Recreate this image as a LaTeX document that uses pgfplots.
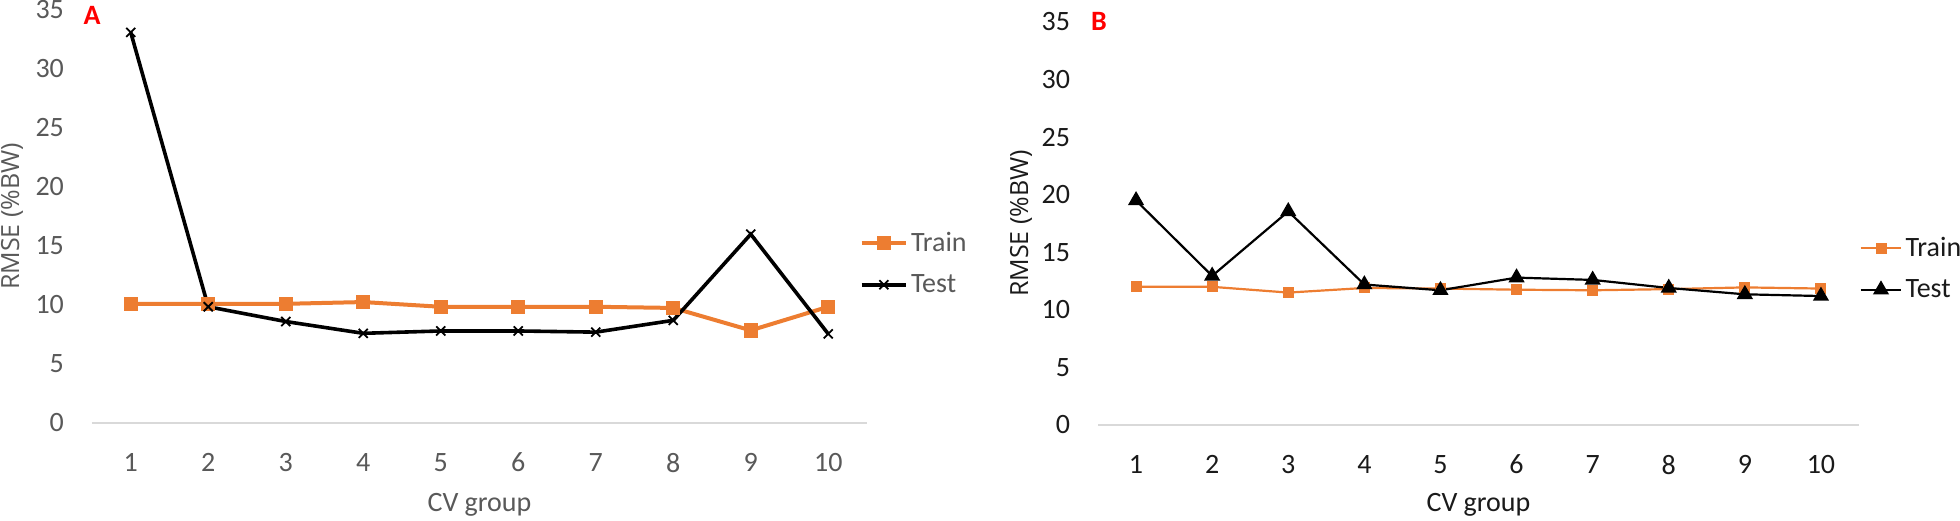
\documentclass[border=0pt]{standalone}
\usepackage{pgfplots}
\pgfplotsset{compat=1.18}
\usepackage{fontspec}
\setmainfont{Carlito}
\newfontfamily\osans{Open Sans}
\definecolor{txtgray}{HTML}{595959}
\definecolor{txtdark}{HTML}{1A1A1A}
\definecolor{axgray}{HTML}{D9D9D9}
\definecolor{xlorange}{HTML}{ED7D31}
\pgfplotsset{
  rmsestyle/.style={
    scale only axis,
    anchor=south west,
    xmin=0.5, xmax=10.5, ymin=0, ymax=35,
    xtick={1,2,3,4,5,6,7,8,9,10},
    ytick={0,5,10,15,20,25,30,35},
    axis x line*=bottom, axis y line*=left,
    x axis line style={draw=axgray, line width=1pt, -},
    y axis line style={draw=none},
    major tick length=0pt,
    tick label style={font=\fontsize{14}{16}\selectfont, text=#1},
    /pgf/number format/assume math mode=true,
    xticklabel style={yshift=-11.5pt},
    yticklabel style={xshift=-10.5pt},
    xlabel={CV group},
    xlabel style={font=\fontsize{14}{16}\selectfont, text=#1, anchor=center},
    ylabel={RMSE (\%BW)},
    ylabel style={font=\osans\fontsize{12.5}{15}\selectfont, text=#1, anchor=center},
    clip=false,
    legend cell align=left,
    legend style={draw=none, fill=none, font=\fontsize{14}{16}\selectfont, text=#1,
      anchor=west, inner sep=0pt, row sep=6pt, nodes={inner xsep=1.5pt}},
  }
}
\begin{document}
\begin{tikzpicture}
\useasboundingbox (0,0) rectangle (980pt,260pt);
% Panel A
\begin{axis}[rmsestyle=txtgray, at={(46pt,48.5pt)}, width=387.5pt, height=206.5pt,
  xlabel style={at={(axis description cs:0.5,-0.1985)}},
  ylabel style={at={(axis description cs:-0.1032,0.5)}},
  legend style={at={(axis description cs:0.99,0.386)}},
  legend image code/.code={\draw[mark repeat=2,mark phase=2] plot coordinates {(0cm,0cm) (0.39cm,0cm) (0.78cm,0cm)};}]
\addplot[color=xlorange, line width=2pt, mark=square*, mark size=2.6pt, mark options={solid}]
  coordinates {(1,10.1)(2,10.1)(3,10.1)(4,10.25)(5,9.85)(6,9.85)(7,9.85)(8,9.75)(9,7.85)(10,9.85)};
\addlegendentry{Train}
\addplot[color=black, line width=1.8pt, mark=x, mark size=3.2pt, mark options={solid, line width=0.9pt}]
  coordinates {(1,33.1)(2,9.85)(3,8.6)(4,7.6)(5,7.8)(6,7.8)(7,7.7)(8,8.7)(9,16.0)(10,7.55)};
\addlegendentry{Test}
\end{axis}
% Panel B
\begin{axis}[rmsestyle=txtdark, at={(549pt,47.5pt)}, width=380.5pt, height=201.5pt,
  xlabel style={at={(axis description cs:0.5,-0.1985)}},
  ylabel style={at={(axis description cs:-0.1012,0.5)}},
  legend style={at={(axis description cs:1.0,0.388)}},
  legend image code/.code={\draw[mark repeat=2,mark phase=2] plot coordinates {(0cm,0cm) (0.36cm,0cm) (0.72cm,0cm)};}]
\addplot[color=xlorange, line width=1.1pt, mark=square*, mark size=2.2pt, mark options={solid}]
  coordinates {(1,12.0)(2,12.0)(3,11.5)(4,11.9)(5,11.85)(6,11.75)(7,11.7)(8,11.8)(9,11.95)(10,11.85)};
\addlegendentry{Train}
\addplot[color=black, line width=1.1pt, mark=triangle*, mark size=3.6pt, mark options={solid}]
  coordinates {(1,19.5)(2,12.95)(3,18.55)(4,12.2)(5,11.7)(6,12.8)(7,12.6)(8,11.9)(9,11.35)(10,11.2)};
\addlegendentry{Test}
\end{axis}
\node[text=red, font=\bfseries\fontsize{14}{16}\selectfont] at (46pt,252.5pt) {A};
\node[text=red, font=\bfseries\fontsize{14}{16}\selectfont] at (549.5pt,249.5pt) {B};
\end{tikzpicture}
\end{document}
